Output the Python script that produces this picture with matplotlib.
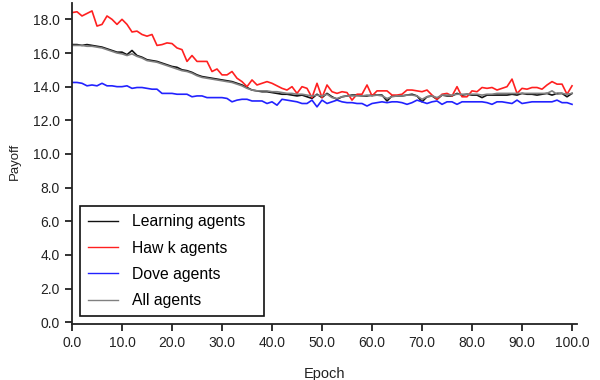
import matplotlib
matplotlib.use("Agg")
import matplotlib.pyplot as plt

plt.rcParams['font.family'] = ['Liberation Sans', 'DejaVu Sans']

epoch = list(range(101))

learning = [16.5, 16.5, 16.45, 16.5, 16.45, 16.4, 16.35, 16.25, 16.15, 16.05,
            16.05, 15.9, 16.15, 15.85, 15.75, 15.6, 15.55, 15.5, 15.4, 15.3,
            15.2, 15.15, 15.0, 14.95, 14.85, 14.7, 14.6, 14.55, 14.5, 14.45,
            14.4, 14.35, 14.3, 14.2, 14.1, 13.95, 13.8, 13.75, 13.7, 13.7,
            13.65, 13.6, 13.55, 13.55, 13.5, 13.45, 13.5, 13.4, 13.3, 13.55,
            13.35, 13.6, 13.4, 13.25, 13.4, 13.45, 13.5, 13.5, 13.45, 13.45,
            13.5, 13.5, 13.5, 13.15, 13.45, 13.45, 13.45, 13.5, 13.55, 13.45,
            13.1, 13.4, 13.45, 13.25, 13.5, 13.45, 13.45, 13.6, 13.5, 13.55,
            13.5, 13.5, 13.35, 13.5, 13.5, 13.5, 13.5, 13.5, 13.55, 13.5,
            13.6, 13.55, 13.55, 13.5, 13.55, 13.6, 13.5, 13.6, 13.6, 13.4,
            13.6]

hawk = [18.4, 18.45, 18.2, 18.35, 18.5, 17.6, 17.7, 18.2, 18.0, 17.7,
        18.0, 17.7, 17.25, 17.3, 17.1, 17.0, 17.1, 16.45, 16.5, 16.6,
        16.56, 16.3, 16.2, 15.5, 15.85, 15.5, 15.5, 15.5, 14.9, 15.05,
        14.7, 14.7, 14.9, 14.5, 14.3, 14.0, 14.4, 14.1, 14.2, 14.3,
        14.2, 14.05, 13.9, 13.8, 14.0, 13.6, 14.0, 13.9, 13.35, 14.2,
        13.35, 14.1, 13.7, 13.6, 13.7, 13.65, 13.2, 13.55, 13.55, 14.1,
        13.45, 13.75, 13.75, 13.75, 13.5, 13.5, 13.55, 13.8, 13.8, 13.75,
        13.7, 13.8, 13.5, 13.25, 13.55, 13.6, 13.45, 14.0, 13.4, 13.4,
        13.75, 13.7, 13.95, 13.9, 13.95, 13.8, 13.9, 14.0, 14.45, 13.6,
        13.9, 13.85, 13.95, 13.95, 13.85, 14.1, 14.3, 14.15, 14.15, 13.55,
        14.05]

dove = [14.25, 14.25, 14.2, 14.05, 14.1, 14.05, 14.2, 14.05, 14.05, 14.0,
        14.0, 14.05, 13.9, 13.95, 13.95, 13.9, 13.85, 13.85, 13.6, 13.6,
        13.6, 13.55, 13.55, 13.55, 13.4, 13.45, 13.45, 13.35, 13.35, 13.35,
        13.35, 13.3, 13.1, 13.2, 13.25, 13.25, 13.15, 13.15, 13.15, 13.0,
        13.1, 12.9, 13.25, 13.2, 13.15, 13.1, 13.0, 13.0, 13.2, 12.8,
        13.2, 13.0, 13.1, 13.2, 13.1, 13.05, 13.05, 13.0, 13.0, 12.85,
        13.0, 13.05, 13.1, 13.05, 13.1, 13.1, 13.05, 12.95, 13.05, 13.2,
        13.1, 13.0, 13.1, 13.15, 12.95, 13.1, 13.1, 12.95, 13.1, 13.1,
        13.1, 13.1, 13.1, 13.05, 12.95, 13.1, 13.1, 13.05, 13.0, 13.2,
        13.0, 13.05, 13.1, 13.1, 13.1, 13.1, 13.1, 13.2, 13.05, 13.05,
        12.95]

all_agents = [16.45, 16.45, 16.45, 16.4, 16.4, 16.35, 16.3, 16.2, 16.1, 16.0,
              15.95, 15.85, 15.95, 15.8, 15.7, 15.55, 15.5, 15.45, 15.35, 15.25,
              15.15, 15.05, 14.95, 14.9, 14.8, 14.65, 14.55, 14.5, 14.45, 14.4,
              14.35, 14.3, 14.25, 14.15, 14.05, 13.9, 13.8, 13.75, 13.75, 13.75,
              13.7, 13.7, 13.65, 13.6, 13.6, 13.55, 13.55, 13.5, 13.45, 13.5,
              13.45, 13.55, 13.35, 13.3, 13.4, 13.45, 13.45, 13.45, 13.45, 13.5,
              13.45, 13.5, 13.45, 13.3, 13.4, 13.45, 13.45, 13.5, 13.5, 13.45,
              13.25, 13.4, 13.45, 13.35, 13.5, 13.5, 13.5, 13.55, 13.55, 13.55,
              13.55, 13.55, 13.5, 13.55, 13.55, 13.6, 13.6, 13.6, 13.6, 13.6,
              13.6, 13.6, 13.6, 13.6, 13.6, 13.6, 13.75, 13.55, 13.6, 13.55,
              13.6]

xticks = [0, 10, 20, 30, 40, 50, 60, 70, 80, 90, 100]
yticks = [0, 2, 4, 6, 8, 10, 12, 14, 16, 18]

fig = plt.figure(figsize=(6, 3.8), dpi=100)
ax = fig.add_axes([0.12, 0.1474, 0.8417, 0.846])

ax.plot(epoch, learning, color='#111111', lw=1.2, label='Learning agents')
ax.plot(epoch, hawk, color='#ff2020', lw=1.2, label='Haw k agents')
ax.plot(epoch, dove, color='#2222ff', lw=1.2, label='Dove agents')
ax.plot(epoch, all_agents, color='#808080', lw=1.2, label='All agents')

ax.set_xlim(0, 101)
ax.set_ylim(-0.1, 19.0)
ax.set_xticks(xticks)
ax.set_xticklabels(['%.1f' % v for v in xticks])
ax.set_yticks(yticks)
ax.set_yticklabels(['%.1f' % v for v in yticks])

for s in ['top', 'right']:
    ax.spines[s].set_visible(False)
for s in ['left', 'bottom']:
    ax.spines[s].set_color('#222222')
    ax.spines[s].set_linewidth(1.3)
ax.tick_params(direction='out', length=5, width=1.3, color='#222222',
               labelsize=10, labelcolor='#222222', pad=4)

ax.set_xlabel('Epoch', fontsize=10.5, color='#222222', labelpad=12)
ax.set_ylabel('Payoff', fontsize=9.5, color='#222222')
ax.yaxis.set_label_coords(-0.101, 0.505)

leg = ax.legend(loc='lower left', bbox_to_anchor=(0.016, 0.025, 0.364, 0.333),
                mode='expand', fontsize=11.3,
                handlelength=1.9, handletextpad=0.9, labelspacing=0.72,
                borderpad=0.5, borderaxespad=0, fancybox=False, framealpha=1)
leg.get_frame().set_edgecolor('#111111')
leg.get_frame().set_linewidth(1.2)
for line in leg.get_lines():
    line.set_linewidth(1.0)

fig.savefig('out.png', dpi=100)
